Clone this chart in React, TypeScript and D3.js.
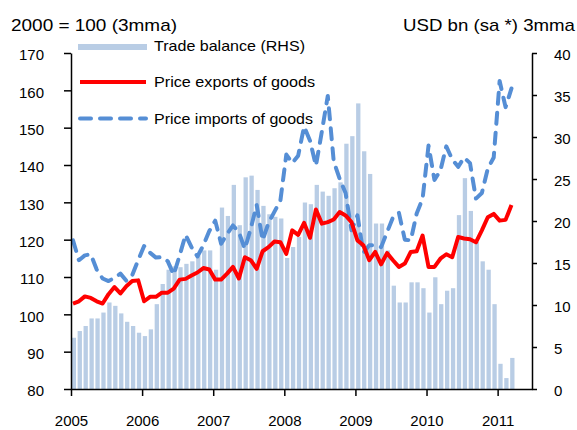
import { useEffect, useRef } from 'react'
import * as d3 from 'd3'

// year labels on the x axis (one tick every 12 months from Jan 2005)
const years = ['2005', '2006', '2007', '2008', '2009', '2010', '2011']
const leftTicks = [80, 90, 100, 110, 120, 130, 140, 150, 160, 170]
const rightTicks = [0, 5, 10, 15, 20, 25, 30, 35, 40]

// monthly values, Jan 2005 .. Mar 2011
const tradeBalance = [
    6.1, 6.9, 7.5, 8.4, 8.4, 9.1, 10.3, 9.9, 9.0, 8.0, 7.5, 6.7,
    6.3, 7.1, 10.1, 12.5, 14.2, 14.6, 14.5, 14.9, 15.2, 15.9, 16.5, 16.5,
    14.2, 21.6, 20.6, 24.3, 19.5, 25.2, 25.4, 23.7, 21.8, 20.8, 20.5, 20.3,
    15.6, 16.9, 18.1, 22.2, 22.0, 24.3, 23.5, 23.0, 23.9, 24.6, 29.2, 30.1,
    34.0, 28.3, 25.6, 19.7, 19.7, 16.5, 12.3, 10.3, 10.3, 12.7, 12.7, 12.0,
    9.1, 13.3, 10.1, 11.7, 12.0, 20.7, 25.1, 21.2, 17.5, 15.2, 14.2, 10.1,
    3.0, 1.3, 3.7,
]

const exportPrices = [
    102.9, 103.5, 104.8, 104.4, 103.5, 102.9, 105.4, 107.3, 105.6, 107.5, 108.9, 109.1,
    103.5, 104.7, 104.7, 105.8, 105.8, 106.9, 109.3, 109.5, 110.4, 111.2, 112.4, 112.0,
    109.3, 109.3, 110.9, 112.7, 109.6, 115.3, 114.5, 112.2, 116.9, 118.0, 119.5, 119.3,
    116.2, 122.5, 121.3, 124.5, 120.5, 128.1, 124.3, 124.7, 125.4, 127.4, 126.5, 124.7,
    119.8, 118.5, 114.5, 116.7, 113.4, 116.4, 114.5, 112.7, 113.6, 116.7, 116.9, 121.1,
    112.7, 112.7, 114.9, 116.1, 115.3, 120.7, 120.3, 120.1, 119.3, 122.5, 126.0, 126.9,
    125.1, 125.3, 129.3,
]

const importPrices = [
    119.8, 114.5, 115.8, 116.1, 112.0, 109.6, 108.9, 109.8, 110.9, 109.0, 110.5, 114.5,
    118.3, 116.5, 115.2, 115.3, 114.2, 110.6, 115.8, 121.3, 118.0, 115.5, 118.5, 122.3,
    125.1, 118.9, 121.5, 123.8, 122.0, 117.5, 123.0, 129.3, 119.8, 124.5, 127.5, 130.5,
    142.8, 140.5, 142.5, 150.3, 146.5, 139.8, 149.0, 158.5, 141.0, 136.3, 132.5, 122.5,
    126.5, 116.5, 118.5, 118.5, 118.0, 122.0, 126.0, 127.2, 120.0, 119.8, 127.0, 131.0,
    145.2, 136.0, 138.5, 145.0, 141.5, 139.5, 142.0, 140.5, 131.0, 132.5, 139.0, 142.0,
    162.5, 155.5, 160.5,
]

const FONT = 'Arial, "Liberation Sans", sans-serif'
const BAR = '#b9cde5'
const RED = '#ff0000'
const BLUE = '#558ed5'

function App() {
    const svg = useRef<SVGSVGElement>(null)

    useEffect(() => {
        const root = d3.select(svg.current)
        root.selectAll('*').remove()

        const x = d3.scaleLinear().domain([0, 77.8]).range([71, 532])
        const yL = d3.scaleLinear().domain([80, 170]).range([389, 53])
        const yR = d3.scaleLinear().domain([0, 40]).range([389, 53])

        //bars for the trade balance (right axis)
        root.append('g')
            .selectAll('rect')
            .data(tradeBalance)
            .join('rect')
                .attr('x', (d, i) => x(i) + 0.7)
                .attr('width', 4.3)
                .attr('y', d => yR(d))
                .attr('height', d => yR(0) - yR(d))
                .attr('fill', BAR)

        const line = d3.line<number>()
            .x((d, i) => x(i) + 2)
            .y(d => yL(d))

        root.append('path')
            .datum(importPrices)
            .attr('d', line)
            .attr('fill', 'none')
            .attr('stroke', BLUE)
            .attr('stroke-width', 4)
            .attr('stroke-dasharray', '11 9')
            .attr('stroke-linecap', 'round')
            .attr('stroke-linejoin', 'round')

        root.append('path')
            .datum(exportPrices)
            .attr('d', line)
            .attr('fill', 'none')
            .attr('stroke', RED)
            .attr('stroke-width', 4)
            .attr('stroke-linejoin', 'round')

        //axes
        const left = root.append('g')
            .attr('transform', 'translate(71,0)')
            .call(d3.axisLeft(yL).tickValues(leftTicks).tickSize(7).tickSizeOuter(0).tickPadding(20))
        const right = root.append('g')
            .attr('transform', 'translate(532,0)')
            .call(d3.axisRight(yR).tickValues(rightTicks).tickSize(5).tickSizeOuter(0).tickPadding(17))
        const bottom = root.append('g')
            .attr('transform', 'translate(0,389)')
            .call(d3.axisBottom(x).tickValues(years.map((y, i) => i * 12)).tickSize(7).tickSizeOuter(0).tickPadding(19)
                .tickFormat((d, i) => years[i]))

        ;[left, right, bottom].forEach(g => {
            g.select('.domain').attr('stroke', '#000').attr('stroke-width', 1.5)
            g.selectAll('.tick line').attr('stroke', '#000').attr('stroke-width', 1.5)
            g.selectAll('text')
                .attr('fill', '#000')
                .style('font-family', FONT)
                .style('font-size', '15px')
        })
        left.selectAll('text').attr('dy', '0.45em')
        right.selectAll('text').attr('dy', '0.45em')

        //titles
        root.append('text')
            .attr('x', 11).attr('y', 31)
            .attr('textLength', 166).attr('lengthAdjust', 'spacingAndGlyphs')
            .style('font', `17px ${FONT}`)
            .text('2000 = 100 (3mma)')
        root.append('text')
            .attr('x', 403).attr('y', 31)
            .attr('textLength', 172).attr('lengthAdjust', 'spacingAndGlyphs')
            .style('font', `17px ${FONT}`)
            .text('USD bn (sa *) 3mma')

        //legend
        root.append('rect')
            .attr('x', 78).attr('y', 44).attr('width', 69).attr('height', 6)
            .attr('fill', BAR)
        root.append('line')
            .attr('x1', 80).attr('x2', 146).attr('y1', 82).attr('y2', 82)
            .attr('stroke', RED).attr('stroke-width', 4)
        root.append('line')
            .attr('x1', 80).attr('x2', 146).attr('y1', 118.5).attr('y2', 118.5)
            .attr('stroke', BLUE).attr('stroke-width', 4)
            .attr('stroke-dasharray', '11 9').attr('stroke-linecap', 'round')

        const legend = [
            ['Trade balance (RHS)', 51, 151],
            ['Price exports of goods', 87, 161],
            ['Price imports of goods', 124, 159],
        ] as const
        legend.forEach(([label, y, len]) => {
            root.append('text')
                .attr('x', 154).attr('y', y)
                .attr('textLength', len).attr('lengthAdjust', 'spacingAndGlyphs')
                .style('font', `15px ${FONT}`)
                .text(label)
        })
    }, [])

    return (
        <svg ref={svg} width={577} height={430}
            style={{ position: 'absolute', left: 0, top: 0, background: '#fff' }}></svg>
    )
}

export default App
